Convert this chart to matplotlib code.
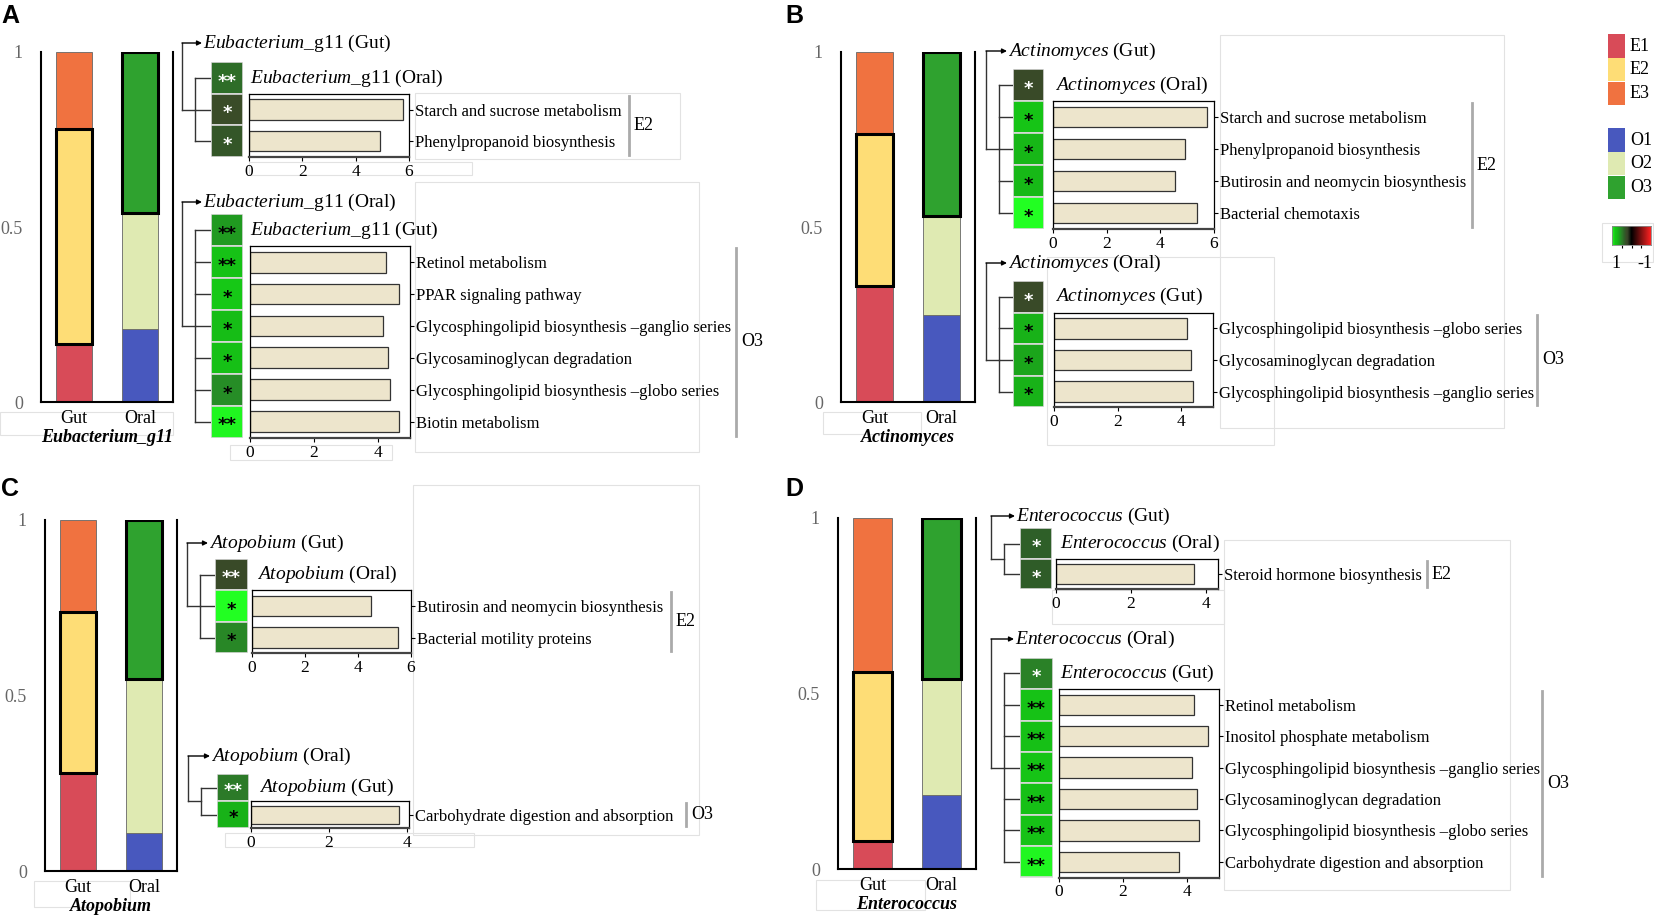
import numpy as np
import matplotlib
matplotlib.use("Agg")
import matplotlib.pyplot as plt
from matplotlib.colors import LinearSegmentedColormap, Normalize
from matplotlib.patches import Rectangle

# ---------------- data ----------------
genera = ["Eubacterium_g11", "Actinomyces", "Atopobium", "Enterococcus"]
gut_layers = ["E1", "E2", "E3"]
oral_layers = ["O1", "O2", "O3"]
# relative abundance of each cluster, bottom to top
gut_props = [[0.166, 0.613, 0.221],
             [0.332, 0.435, 0.233],
             [0.279, 0.460, 0.261],
             [0.081, 0.481, 0.438]]
oral_props = [[0.209, 0.331, 0.460],
              [0.249, 0.283, 0.468],
              [0.108, 0.438, 0.454],
              [0.211, 0.329, 0.460]]

a_e2_paths = ["Starch and sucrose metabolism", "Phenylpropanoid biosynthesis"]
a_e2_vals = [5.76, 4.91]
a_e2_heat = [0.42, 0.27, 0.32]
a_e2_stars = ["**", "*", "*"]

a_o3_paths = ["Retinol metabolism", "PPAR signaling pathway",
              "Glycosphingolipid biosynthesis \u2013ganglio series",
              "Glycosaminoglycan degradation",
              "Glycosphingolipid biosynthesis \u2013globo series",
              "Biotin metabolism"]
a_o3_vals = [4.24, 4.67, 4.17, 4.31, 4.37, 4.67]
a_o3_heat = [0.60, 0.80, 0.85, 0.75, 0.78, 0.55, 0.97]
a_o3_stars = ["**", "**", "*", "*", "*", "*", "**"]

b_e2_paths = ["Starch and sucrose metabolism", "Phenylpropanoid biosynthesis",
              "Butirosin and neomycin biosynthesis", "Bacterial chemotaxis"]
b_e2_vals = [5.74, 4.91, 4.55, 5.35]
b_e2_heat = [0.25, 0.82, 0.72, 0.73, 1.0]
b_e2_stars = ["*", "*", "*", "*", "*"]

b_o3_paths = ["Glycosphingolipid biosynthesis \u2013globo series",
              "Glycosaminoglycan degradation",
              "Glycosphingolipid biosynthesis \u2013ganglio series"]
b_o3_vals = [4.18, 4.31, 4.37]
b_o3_heat = [0.25, 0.70, 0.64, 0.70]
b_o3_stars = ["*", "*", "*", "*"]

c_e2_paths = ["Butirosin and neomycin biosynthesis", "Bacterial motility proteins"]
c_e2_vals = [4.50, 5.51]
c_e2_heat = [0.25, 1.0, 0.53]
c_e2_stars = ["**", "*", "*"]

c_o3_paths = ["Carbohydrate digestion and absorption"]
c_o3_vals = [3.80]
c_o3_heat = [0.47, 0.70]
c_o3_stars = ["**", "*"]

d_e2_paths = ["Steroid hormone biosynthesis"]
d_e2_vals = [3.68]
d_e2_heat = [0.36, 0.35]
d_e2_stars = ["*", "*"]

d_o3_paths = ["Retinol metabolism", "Inositol phosphate metabolism",
              "Glycosphingolipid biosynthesis \u2013ganglio series",
              "Glycosaminoglycan degradation",
              "Glycosphingolipid biosynthesis \u2013globo series",
              "Carbohydrate digestion and absorption"]
d_o3_vals = [4.22, 4.66, 4.17, 4.31, 4.36, 3.76]
d_o3_heat = [0.50, 0.80, 0.78, 0.82, 0.78, 0.79, 0.97]
d_o3_stars = ["*", "**", "**", "**", "**", "**", "**"]

# ---------------- style / layout ----------------
W, H = 1654, 916
plt.rcParams["font.family"] = ["Liberation Serif", "DejaVu Serif"]
plt.rcParams["mathtext.fontset"] = "custom"
plt.rcParams["mathtext.rm"] = "Liberation Serif"
plt.rcParams["mathtext.it"] = "Liberation Serif:italic"
plt.rcParams["mathtext.bf"] = "Liberation Serif:bold"

layer_colors = {"E1": "#d84b58", "E2": "#fedd76", "E3": "#f07240",
                "O1": "#4858be", "O2": "#dfeab2", "O3": "#2fa22f"}
highlight = {"E2", "O3"}

corr_anchors = [(-1.0, "#ff2222"), (0.0, "#000000"), (0.2, "#364428"),
                (0.27, "#3a4c28"), (0.36, "#2e5e28"), (0.45, "#2e7428"),
                (0.55, "#268c26"), (0.65, "#1aa81a"), (0.75, "#16bc16"),
                (0.85, "#16c816"), (1.0, "#22ff22")]
cmap = LinearSegmentedColormap.from_list(
    "corr", [((v + 1) / 2, c) for v, c in corr_anchors])
norm = Normalize(-1, 1)

stack_boxes = [(41, 52, 173, 402), (841, 52, 975, 402),
               (45, 520, 177, 871), (838, 518, 976, 869)]
letters = [("A", 1, 16), ("B", 785, 16), ("C", 1, 489), ("D", 785, 489)]
# hx0, hx1, top, row_h, bx0, bx1, xmax, tree_outer, tree_inner, root_x, root_y, self_x, bracket_x
block_layout = {
    ("A", "E2"): (211, 243, 62.3, 31.5, 249, 409, 6, 182, 195, 203, 43, 250, 629),
    ("A", "O3"): (211, 243, 214.3, 31.9, 250, 410, 5, 182, 195, 203, 202, 250, 736),
    ("B", "E2"): (1013, 1044, 69, 32, 1053, 1214, 6, 986, 999, 1008, 51, 1055, 1472),
    ("B", "O3"): (1013, 1044, 281, 31.6, 1054, 1213, 5, 986, 999, 1008, 263, 1055, 1537),
    ("C", "E2"): (215, 248, 559, 31.4, 252, 411, 6, 187, 200, 209, 543, 257, 671),
    ("C", "O3"): (217, 249, 774, 27.2, 251, 409, 4.05, 188, 200.6, 211, 756, 259, 686),
    ("D", "E2"): (1020, 1052, 528.3, 30.5, 1056, 1218, 4.33, 991, 1004, 1016, 516, 1060, 1427),
    ("D", "O3"): (1020, 1053, 657.7, 31.4, 1059, 1219, 5, 991, 1004, 1015, 639, 1060, 1542),
}
faint_boxes = [(0, 412, 173, 435), (415, 93, 680, 159), (249, 162, 472, 175),
               (415, 182, 699, 452), (230, 445, 392, 460),
               (1220, 35, 1504, 428), (1047, 257, 1274, 445), (823, 412, 921, 434),
               (413, 485, 699, 835), (225, 833, 474, 847), (34, 881, 130, 907),
               (1224, 540, 1510, 890), (1052, 590, 1224, 624), (816, 880, 925, 910),
               (1602, 223, 1653, 262)]

fig = plt.figure(figsize=(W / 100, H / 100), dpi=100)
ov = fig.add_axes([0, 0, 1, 1])
ov.set_xlim(0, W)
ov.set_ylim(H, 0)
ov.axis("off")


def px_axes(x0, y0, x1, y1):
    ax = fig.add_axes([x0 / W, 1 - y1 / H, (x1 - x0) / W, (y1 - y0) / H])
    ax.set_facecolor("none")
    return ax


def genus_label(genus, site):
    name, _, suffix = genus.partition("_")
    tail = ("_" + suffix) if suffix else ""
    return rf"$\mathit{{{name}}}$" + tail + f" ({site})"


def draw_stack(box, genus, gut, oral):
    ax = px_axes(*box)
    for xpos, props, layers in [(0, gut, gut_layers), (1, oral, oral_layers)]:
        bottom = 0
        for v, lab in zip(props, layers):
            hl = lab in highlight
            ax.bar(xpos, v, bottom=bottom, width=0.56, color=layer_colors[lab],
                   edgecolor="black" if hl else "#666666",
                   linewidth=2.2 if hl else 0.6, zorder=3 if hl else 2)
            bottom += v
    ax.set_xlim(-0.5, 1.5)
    ax.set_ylim(0, 1)
    ax.spines["top"].set_visible(False)
    for s in ["left", "right", "bottom"]:
        ax.spines[s].set_linewidth(1.5)
    ax.set_yticks([0, 0.5, 1])
    ax.set_yticklabels(["0", "0.5", "1"])
    ax.tick_params(axis="y", length=0, pad=13, labelcolor="#666666", labelsize=13)
    ax.set_xticks([0, 1])
    ax.set_xticklabels(["Gut", "Oral"])
    ax.tick_params(axis="x", length=0, pad=5.5, labelsize=13)
    ax.set_xlabel(genus, fontstyle="italic", fontweight="bold", fontsize=13, labelpad=2)


def draw_block(lay, genus, root_site, self_site, paths, vals, heat, stars, group):
    hx0, hx1, top, rh, bx0, bx1, xmax, xo, xi, rx, ry, sx, gx = lay
    n = len(heat)
    hax = px_axes(hx0, top, hx1, top + n * rh)
    hax.barh(np.arange(n) + 0.5, 1, height=1, left=0, color=cmap(norm(heat)),
             edgecolor="#dadada", linewidth=1.2)
    hax.set_xlim(0, 1)
    hax.set_ylim(n, 0)
    hax.axis("off")
    for i, (h, s) in enumerate(zip(heat, stars)):
        hax.text(0.5, i + 0.62, s, ha="center", va="center", fontsize=13,
                 family="DejaVu Sans", fontweight="bold",
                 color="white" if h <= 0.5 else "black")

    m = len(paths)
    bax = px_axes(bx0, top + rh, bx1, top + n * rh)
    bax.barh(np.arange(m) + 0.5, vals, height=0.65, color="#ede5cc",
             edgecolor="#333333", linewidth=0.9)
    bax.set_xlim(0, xmax)
    bax.set_ylim(m, 0)
    bax.set_xticks(np.arange(0, xmax + 0.01, 2))
    bax.xaxis.set_major_formatter(plt.FormatStrFormatter("%d"))
    bax.set_yticks(np.arange(m) + 0.5)
    bax.set_yticklabels(paths)
    bax.yaxis.tick_right()
    bax.tick_params(axis="y", length=3, pad=1, labelsize=12)
    bax.tick_params(axis="x", length=3, pad=2, labelsize=12.5)
    for s in bax.spines.values():
        s.set_linewidth(0.9)
    bax.spines["bottom"].set_linewidth(1.6)
    bax.spines["bottom"].set_color("#444444")

    # tree
    centers = top + (np.arange(n) + 0.5) * rh
    ya = centers[n // 2] if n > 2 else centers.mean()
    lk = dict(color="#333333", lw=1)
    ov.plot([xi, xi], [centers[0], centers[-1]], **lk)
    for c in centers:
        ov.plot([xi, hx0], [c, c], **lk)
    ov.plot([xo, xi], [ya, ya], **lk)
    ov.plot([xo, xo], [ry, ya], **lk)
    ov.annotate("", xy=(rx - 1, ry), xytext=(xo, ry),
                arrowprops=dict(arrowstyle="-|>", lw=1, color="black",
                                mutation_scale=7, shrinkA=0, shrinkB=0))
    ov.text(rx, ry, genus_label(genus, root_site), ha="left", va="center", fontsize=14)
    ov.text(sx, centers[0], genus_label(genus, self_site), ha="left", va="center",
            fontsize=14)

    # cluster bracket
    y0, y1 = top + rh + 2, top + n * rh - 2
    ov.plot([gx, gx], [y0, y1], color="#aaaaaa", lw=2)
    ov.text(gx + 5, (y0 + y1) / 2, group, ha="left", va="center", fontsize=13)


for x0, y0, x1, y1 in faint_boxes:
    ov.add_patch(Rectangle((x0, y0), x1 - x0, y1 - y0, fill=False,
                           ec="#e2e2e2", lw=0.8))

blocks = {
    "A": [(a_e2_paths, a_e2_vals, a_e2_heat, a_e2_stars),
          (a_o3_paths, a_o3_vals, a_o3_heat, a_o3_stars)],
    "B": [(b_e2_paths, b_e2_vals, b_e2_heat, b_e2_stars),
          (b_o3_paths, b_o3_vals, b_o3_heat, b_o3_stars)],
    "C": [(c_e2_paths, c_e2_vals, c_e2_heat, c_e2_stars),
          (c_o3_paths, c_o3_vals, c_o3_heat, c_o3_stars)],
    "D": [(d_e2_paths, d_e2_vals, d_e2_heat, d_e2_stars),
          (d_o3_paths, d_o3_vals, d_o3_heat, d_o3_stars)],
}

for k, (letter, lx, ly) in enumerate(letters):
    ov.text(lx, ly, letter, family="Liberation Sans", fontweight="bold",
            fontsize=18, ha="left", va="center")
    draw_stack(stack_boxes[k], genera[k], gut_props[k], oral_props[k])
    (p1, v1, h1, s1), (p2, v2, h2, s2) = blocks[letter]
    draw_block(block_layout[(letter, "E2")], genera[k], "Gut", "Oral", p1, v1, h1, s1, "E2")
    draw_block(block_layout[(letter, "O3")], genera[k], "Oral", "Gut", p2, v2, h2, s2, "O3")

# cluster legend
for group, ytop in [(gut_layers, 34.3), (oral_layers, 128.3)]:
    for i, lab in enumerate(group):
        ov.add_patch(Rectangle((1608, ytop + i * 23.6), 17, 23.6,
                               color=layer_colors[lab], lw=0))
        ov.text(1630, ytop + (i + 0.5) * 23.6, lab, ha="left", va="center", fontsize=13)

# correlation colour bar (1 on the left, -1 on the right)
cax = px_axes(1612, 226, 1651, 245)
cax.imshow(np.linspace(1, -1, 256)[None, :], cmap=cmap, norm=norm,
           aspect="auto", extent=(1, -1, 0, 1))
cax.set_xticks([0.5, 0, -0.5])
cax.set_xticklabels([])
cax.set_yticks([])
cax.tick_params(axis="x", length=2.5, width=0.8)
for s in cax.spines.values():
    s.set_linewidth(0.6)
    s.set_color("#888888")
ov.text(1616, 263, "1", ha="center", va="center", fontsize=13)
ov.text(1645, 263, "-1", ha="center", va="center", fontsize=13)

fig.savefig("out.png", dpi=100)
